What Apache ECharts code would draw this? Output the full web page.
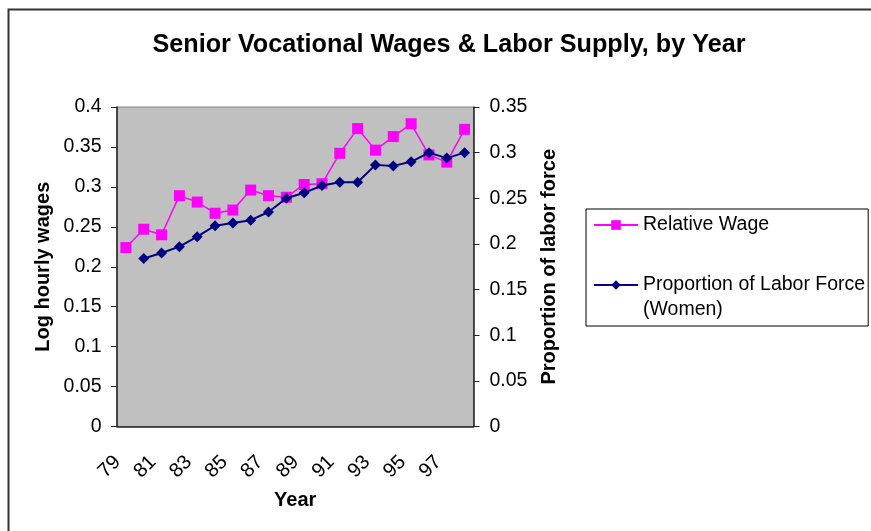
<!DOCTYPE html>
<html>
<head>
<meta charset="utf-8">
<script src="https://cdn.jsdelivr.net/npm/echarts@6/dist/echarts.min.js"></script>
<style>
html,body{margin:0;padding:0;background:#fff;}
#c{width:871px;height:531px;}
</style>
</head>
<body>
<div id="c"></div>
<script>
var years = ['79','80','81','82','83','84','85','86','87','88','89','90','91','92','93','94','95','96','97','98'];
var relativeWage = [0.224,0.247,0.240,0.289,0.281,0.267,0.271,0.296,0.289,0.287,0.303,0.304,0.342,0.373,0.346,0.363,0.379,0.340,0.331,0.372];
var laborProportion = [null,0.184,0.190,0.197,0.208,0.220,0.223,0.226,0.235,0.250,0.256,0.264,0.2675,0.2675,0.2866,0.2855,0.290,0.300,0.294,0.300];
var leftTicks = {min:0, max:0.4, interval:0.05};
var rightTicks = {min:0, max:0.35, interval:0.05};

var FONT = '"Liberation Sans", Arial, sans-serif';
var chart = echarts.init(document.getElementById('c'), null, {renderer:'canvas'});
chart.setOption({
  animation:false,
  backgroundColor:'#ffffff',
  textStyle:{fontFamily:FONT, color:'#000'},
  title:{
    text:'Senior Vocational Wages & Labor Supply, by Year',
    left:444, top:28, textAlign:'center',
    textStyle:{fontFamily:FONT, fontSize:25.2, fontWeight:'bold', color:'#000'}
  },
  graphic:[{
    type:'rect', left:6, top:7, shape:{width:1000, height:1000},
    style:{fill:'none', stroke:'#333', lineWidth:2}, silent:true, z:-1
  }],
  legend:{
    orient:'vertical', left:586, top:209,
    itemWidth:44, itemHeight:12, itemGap:10,
    padding:[3.5,3,3.5,7],
    borderColor:'#000', borderWidth:1,
    textStyle:{fontFamily:FONT, fontSize:19.5, color:'#000', lineHeight:25},
    formatter:function(n){ return n === 'Proportion of Labor Force (Women)' ? '\nProportion of Labor Force\n(Women)' : n; },
    data:['Relative Wage','Proportion of Labor Force (Women)']
  },
  grid:{left:117, top:107, right:397.5, bottom:104.5, show:true, backgroundColor:'#c0c0c0', borderColor:'#808080', borderWidth:1},
  xAxis:{
    type:'category', data:years, boundaryGap:true,
    name:'Year', nameLocation:'middle', nameGap:64,
    nameTextStyle:{fontFamily:FONT, fontSize:20, fontWeight:'bold', color:'#000'},
    axisLine:{lineStyle:{color:'#222', width:1.5}},
    axisTick:{interval:0, length:6, lineStyle:{color:'#222'}},
    axisLabel:{interval:1, rotate:45, margin:24, padding:[0,12,0,0], fontFamily:FONT, fontSize:20, color:'#000'},
    splitLine:{show:false}
  },
  yAxis:[{
    type:'value', position:'left', min:leftTicks.min, max:leftTicks.max, interval:leftTicks.interval,
    name:'Log hourly wages', nameLocation:'middle', nameGap:64,
    nameTextStyle:{fontFamily:FONT, fontSize:20, fontWeight:'bold', color:'#000'},
    axisLine:{show:true, lineStyle:{color:'#222', width:1.5}},
    axisTick:{show:true, length:6, lineStyle:{color:'#222'}},
    axisLabel:{margin:15.5, fontFamily:FONT, fontSize:19.5, color:'#000'},
    splitLine:{show:false}
  },{
    type:'value', position:'right', min:rightTicks.min, max:rightTicks.max, interval:rightTicks.interval,
    name:'Proportion of labor force', nameLocation:'middle', nameGap:66,
    nameTextStyle:{fontFamily:FONT, fontSize:20, fontWeight:'bold', color:'#000'},
    axisLine:{show:true, lineStyle:{color:'#222', width:1.5}},
    axisTick:{show:true, length:6, lineStyle:{color:'#222'}},
    axisLabel:{margin:16, fontFamily:FONT, fontSize:19.5, color:'#000'},
    splitLine:{show:false}
  }],
  series:[{
    name:'Relative Wage', type:'line', yAxisIndex:0, data:relativeWage,
    symbol:'rect', symbolSize:11,
    lineStyle:{color:'#ff00ff', width:1.5}, itemStyle:{color:'#ff00ff'}, z:2
  },{
    name:'Proportion of Labor Force (Women)', type:'line', yAxisIndex:1, data:laborProportion,
    symbol:'diamond', symbolSize:11,
    lineStyle:{color:'#000080', width:2}, itemStyle:{color:'#000080'}, z:3
  }]
});
</script>
</body>
</html>
